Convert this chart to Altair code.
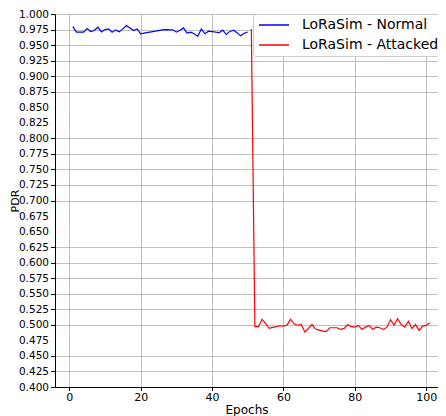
import altair as alt
import pandas as pd

# ---- data ----
epochs_normal = list(range(1, 51))
pdr_normal = [
    0.9797, 0.9708, 0.9708, 0.9708, 0.9766, 0.9718, 0.9734, 0.9787, 0.9713, 0.9750,
    0.9760, 0.9708, 0.9745, 0.9713, 0.9760, 0.9813, 0.9776, 0.9734, 0.9760, 0.9682,
    0.9692, 0.9703, 0.9713, 0.9724, 0.9734, 0.9745, 0.9750, 0.9745, 0.9745, 0.9708,
    0.9740, 0.9776, 0.9692, 0.9708, 0.9682, 0.9640, 0.9760, 0.9682, 0.9724, 0.9718,
    0.9708, 0.9700, 0.9740, 0.9670, 0.9720, 0.9740, 0.9700, 0.9650, 0.9690, 0.9710,
]
epochs_attacked = list(range(51, 102))
pdr_attacked = [
    0.9760, 0.4970, 0.4970, 0.5090, 0.5025, 0.4945, 0.4960, 0.4970, 0.4985, 0.4980,
    0.4995, 0.5090, 0.5016, 0.4990, 0.5005, 0.4885, 0.4942, 0.5005, 0.4932, 0.4916,
    0.4900, 0.4890, 0.4953, 0.4953, 0.4953, 0.4926, 0.4942, 0.5005, 0.4970, 0.4963,
    0.4990, 0.4926, 0.4963, 0.4990, 0.4926, 0.4963, 0.4953, 0.4926, 0.4963, 0.5084,
    0.4995, 0.5100, 0.5005, 0.4963, 0.5058, 0.4942, 0.5005, 0.4911, 0.4979, 0.4990,
    0.5032,
]
series_names = ["LoRaSim - Normal", "LoRaSim - Attacked"]
series_colors = ["#0000ff", "#ff0000"]
x_ticks = [0, 20, 40, 60, 80, 100]
y_ticks = [round(0.4 + 0.025 * i, 3) for i in range(25)]
y_ticks_without_mark = [0.85, 0.825, 0.675, 0.65, 0.475]

df = pd.concat([
    pd.DataFrame({"Epochs": epochs_normal, "PDR": pdr_normal, "Series": series_names[0]}),
    pd.DataFrame({"Epochs": epochs_attacked, "PDR": pdr_attacked, "Series": series_names[1]}),
])

hide_test = " || ".join(f"abs(datum.value - {v}) < 0.001" for v in y_ticks_without_mark)
hide_cond = {"condition": {"test": hide_test, "value": 0}, "value": 1}

FONT = "DejaVu Sans"
PLOT_H = 373

chart = alt.Chart(df).mark_line(strokeWidth=1.2).encode(
    x=alt.X("Epochs:Q",
            scale=alt.Scale(domain=[-4, 103.3], nice=False, zero=False),
            axis=alt.Axis(values=x_ticks, format="d", title="Epochs",
                          tickSize=3.5, labelPadding=1, titlePadding=2,
                          titleFontSize=12)),
    y=alt.Y("PDR:Q",
            scale=alt.Scale(domain=[0.4, 1.0], nice=False, zero=False),
            axis=alt.Axis(values=y_ticks, format=".3f", title="PDR",
                          tickSize=4.5, labelPadding=2, labelFontSize=10.5,
                          titleFontSize=11, titleX=-35, titleY=PLOT_H / 2,
                          gridOpacity=hide_cond, tickOpacity=hide_cond)),
    color=alt.Color("Series:N",
                    scale=alt.Scale(domain=series_names, range=series_colors),
                    legend=alt.Legend(title=None, orient="none", legendX=198, legendY=0,
                                      symbolType="M-1,0H5", symbolSize=100,
                                      symbolStrokeWidth=1.5, labelFontSize=14,
                                      labelOffset=31, rowPadding=6, padding=4,
                                      fillColor="white", strokeColor="#cccccc",
                                      cornerRadius=3, labelColor="black",
                                      labelFont=FONT)),
    order="Epochs:Q",
).properties(
    width=383, height=PLOT_H,
    autosize=alt.AutoSizeParams(type="none"),
    padding={"left": 47, "top": 6, "right": 0, "bottom": 30},
).configure_view(stroke=None).configure_axis(
    domainColor="black", tickColor="black", gridColor="#b0b0b0", gridWidth=0.8,
    labelFont=FONT, titleFont=FONT, labelFontSize=11, titleFontSize=12,
    labelColor="black", titleColor="black", titleFontWeight="normal",
)

chart.save("out.html", embed_options={"renderer": "svg", "actions": False})
